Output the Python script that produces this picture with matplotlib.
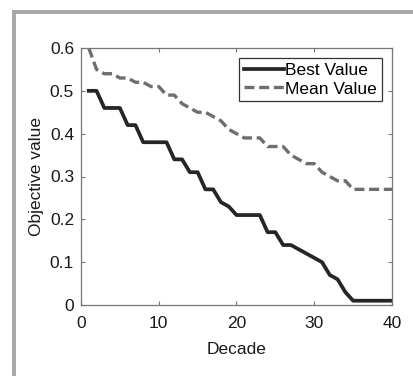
import matplotlib
matplotlib.use('Agg')
import matplotlib.pyplot as plt
from matplotlib.patches import Rectangle

# convergence data
decade = list(range(1, 41))
best_value = [0.50, 0.50, 0.46, 0.46, 0.46, 0.42, 0.42, 0.38, 0.38, 0.38,
              0.38, 0.34, 0.34, 0.31, 0.31, 0.27, 0.27, 0.24, 0.23, 0.21,
              0.21, 0.21, 0.21, 0.17, 0.17, 0.14, 0.14, 0.13, 0.12, 0.11,
              0.10, 0.07, 0.06, 0.03, 0.01, 0.01, 0.01, 0.01, 0.01, 0.01]
mean_value = [0.60, 0.55, 0.54, 0.54, 0.53, 0.53, 0.52, 0.52, 0.51, 0.51,
              0.49, 0.49, 0.47, 0.46, 0.45, 0.45, 0.44, 0.43, 0.41, 0.40,
              0.39, 0.39, 0.39, 0.37, 0.37, 0.37, 0.35, 0.34, 0.33, 0.33,
              0.31, 0.30, 0.29, 0.29, 0.27, 0.27, 0.27, 0.27, 0.27, 0.27]
xticks = [0, 10, 20, 30, 40]
yticks = [0, 0.1, 0.2, 0.3, 0.4, 0.5, 0.6]
ytick_labels = ['0', '0.1', '0.2', '0.3', '0.4', '0.5', '0.6']

plt.rcParams['font.family'] = ['Liberation Sans', 'DejaVu Sans']
plt.rcParams['font.size'] = 12.5

W, H = 414, 376
fig = plt.figure(figsize=(W / 100, H / 100), dpi=100)
fig.patch.set_facecolor('white')

# gray frame on top and left edge
border = '#a8a8a8'
fig.patches.append(Rectangle((12 / W, 1 - 14 / H), 1 - 12 / W, 4 / H,
                             transform=fig.transFigure, color=border, lw=0))
fig.patches.append(Rectangle((12 / W, 0), 4 / W, 1 - 10 / H,
                             transform=fig.transFigure, color=border, lw=0))

ax = fig.add_axes([81 / W, 1 - 305 / H, 311 / W, 257 / H])
ax.plot(decade, best_value, '-', color='#262626', lw=2.7, label='Best Value')
ax.plot(decade, mean_value, '--', color='#6e6e6e', lw=2.4, dashes=(3, 1.4),
        label='Mean Value')

ax.set_xlim(0, 40)
ax.set_ylim(0, 0.6)
ax.set_xticks(xticks)
ax.set_yticks(yticks)
ax.set_yticklabels(ytick_labels)
ax.tick_params(axis='both', direction='in', length=3, width=0.8, top=True,
               right=True, colors='#777777', labelcolor='#1a1a1a')
ax.tick_params(axis='x', pad=8)
ax.tick_params(axis='y', pad=5)
for s in ax.spines.values():
    s.set_color('#777777')
    s.set_linewidth(0.9)

ax.set_xlabel('Decade', color='#1a1a1a', labelpad=8)
ax.set_ylabel('Objective value', color='#1a1a1a', labelpad=4)

leg = ax.legend(loc='upper right', fontsize=12.5, fancybox=False,
                framealpha=1, edgecolor='#333333', handlelength=2.3,
                handletextpad=0.1, borderpad=0.25, labelspacing=0.2,
                borderaxespad=0.6)
leg.get_frame().set_linewidth(0.9)

fig.savefig('out.png', dpi=100)
